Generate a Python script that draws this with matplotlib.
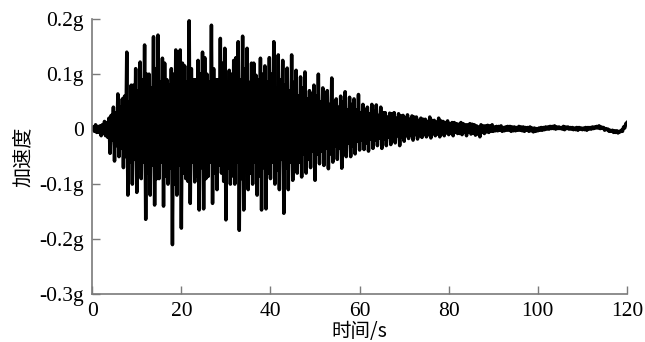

# importing matplotlib module
from matplotlib import pyplot as plt

# Num PY
import numpy as np

# acceleration record (g).
# main peaks: negative peak at t = s, positive peak at t = s + 0.5 (one row = 10 s)
acc_0_10 = [0.0, 0.008, -0.006, 0.006, -0.012, 0.014, -0.012, 0.02, -0.044, 0.04,
            -0.058, 0.064, -0.05, 0.055, -0.07, 0.14, -0.12, 0.08, -0.1, 0.11]
acc_10_20 = [-0.115, 0.122, -0.09, 0.153, -0.164, 0.1, -0.12, 0.168, -0.138, 0.171,
             -0.09, 0.129, -0.14, 0.09, -0.1, 0.11, -0.21, 0.144, -0.12, 0.144]
acc_20_30 = [-0.18, 0.115, -0.09, 0.197, -0.135, 0.09, -0.096, 0.125, -0.147, 0.14,
             -0.145, 0.1, -0.086, 0.189, -0.135, 0.09, -0.11, 0.165, -0.08, 0.147]
acc_30_40 = [-0.165, 0.107, -0.1, 0.125, -0.1, 0.159, -0.184, 0.169, -0.147, 0.147,
             -0.11, 0.12, -0.1, 0.098, -0.12, 0.129, -0.147, 0.115, -0.145, 0.13]
acc_40_50 = [-0.09, 0.159, -0.1, 0.135, -0.11, 0.125, -0.153, 0.111, -0.11, 0.135,
             -0.093, 0.107, -0.08, 0.095, -0.087, 0.104, -0.08, 0.07, -0.07, 0.08]
acc_50_60 = [-0.093, 0.1, -0.063, 0.075, -0.066, 0.07, -0.072, 0.093, -0.06, 0.055,
             -0.055, 0.06, -0.071, 0.068, -0.05, 0.058, -0.05, 0.055, -0.045, 0.063]
acc_60_70 = [-0.038, 0.045, -0.037, 0.04, -0.04, 0.045, -0.035, 0.044, -0.03, 0.04,
             -0.035, 0.03, -0.03, 0.029, -0.028, 0.03, -0.025, 0.028, -0.03, 0.025]
acc_70_80 = [-0.022, 0.026, -0.017, 0.024, -0.02, 0.022, -0.018, 0.02, -0.015, 0.018,
             -0.014, 0.022, -0.016, 0.016, -0.012, 0.02, -0.014, 0.014, -0.012, 0.015]
acc_80_90 = [-0.01, 0.012, -0.012, 0.01, -0.008, 0.012, -0.01, 0.008, -0.012, 0.01,
             -0.009, 0.008, -0.011, 0.004, -0.014, 0.006, -0.008, 0.007, -0.006, 0.008]
acc_90_100 = [-0.004, 0.005, -0.003, 0.006, -0.004, 0.004, -0.002, 0.005, -0.004, 0.004,
              -0.003, 0.005, -0.002, 0.004, -0.004, 0.003, -0.004, 0.002, -0.005, 0.001]
acc_100_110 = [-0.003, 0.003, -0.002, 0.004, 0.0, 0.005, 0.001, 0.006, 0.0, 0.004,
               0.001, 0.005, -0.001, 0.004, 0.0, 0.003, -0.001, 0.003, -0.002, 0.002]
acc_110_120 = [-0.001, 0.003, -0.002, 0.003, 0.0, 0.004, 0.002, 0.006, 0.001, 0.003,
               -0.002, 0.0, -0.004, -0.002, -0.006, -0.003, -0.007, -0.002, -0.004, 0.01]
acc_end = 0.012

# smaller oscillations in between the peaks (the solid black band), one value per second
inner_hi = [0.004, 0.005, 0.008, 0.012, 0.025, 0.03, 0.04, 0.06, 0.05, 0.08,
            0.07, 0.09, 0.1, 0.075, 0.11, 0.085, 0.12, 0.08, 0.1, 0.09,
            0.12, 0.085, 0.11, 0.09, 0.1, 0.13, 0.085, 0.11, 0.09, 0.12,
            0.085, 0.1, 0.13, 0.09, 0.11, 0.085, 0.12, 0.09, 0.1, 0.085,
            0.1, 0.075, 0.09, 0.08, 0.07, 0.085, 0.06, 0.075, 0.055, 0.065,
            0.06, 0.05, 0.065, 0.045, 0.05, 0.04, 0.05, 0.035, 0.045, 0.035,
            0.03, 0.035, 0.028, 0.032, 0.025, 0.03, 0.022, 0.028, 0.02, 0.024,
            0.02, 0.018, 0.022, 0.016, 0.018, 0.014, 0.016, 0.013, 0.015, 0.012,
            0.01, 0.012, 0.009, 0.01, 0.008, 0.009, 0.006, 0.008, 0.006, 0.006,
            0.004, 0.005, 0.003, 0.005, 0.004, 0.003, 0.004, 0.003, 0.004, 0.002,
            0.002, 0.003, 0.004, 0.005, 0.004, 0.003, 0.004, 0.003, 0.002, 0.003,
            0.002, 0.003, 0.004, 0.005, 0.004, 0.001, -0.002, -0.003, -0.004, 0.004]
inner_lo = [-0.004, -0.006, -0.008, -0.015, -0.02, -0.03, -0.035, -0.05, -0.06, -0.055,
            -0.07, -0.06, -0.08, -0.065, -0.09, -0.06, -0.085, -0.07, -0.1, -0.065,
            -0.08, -0.095, -0.06, -0.085, -0.07, -0.09, -0.06, -0.08, -0.065, -0.095,
            -0.07, -0.085, -0.06, -0.09, -0.065, -0.08, -0.06, -0.085, -0.07, -0.08,
            -0.06, -0.075, -0.055, -0.07, -0.06, -0.05, -0.06, -0.045, -0.055, -0.04,
            -0.045, -0.04, -0.035, -0.045, -0.03, -0.035, -0.03, -0.025, -0.03, -0.022,
            -0.02, -0.025, -0.018, -0.02, -0.016, -0.018, -0.014, -0.016, -0.012, -0.014,
            -0.012, -0.011, -0.01, -0.012, -0.009, -0.01, -0.008, -0.009, -0.008, -0.007,
            -0.007, -0.006, -0.008, -0.006, -0.005, -0.007, -0.009, -0.006, -0.005, -0.004,
            -0.003, -0.002, -0.003, -0.002, -0.003, -0.002, -0.003, -0.002, -0.003, -0.004,
            -0.002, -0.001, 0.0, 0.001, 0.001, 0.0, 0.001, 0.0, -0.001, 0.0,
            -0.001, 0.0, 0.001, 0.002, 0.002, -0.001, -0.004, -0.006, -0.005, 0.002]

peaks = (acc_0_10 + acc_10_20 + acc_20_30 + acc_30_40 + acc_40_50 + acc_50_60
         + acc_60_70 + acc_70_80 + acc_80_90 + acc_90_100 + acc_100_110 + acc_110_120)

# put the record together on a 0.25 s grid: peak-, inner+, inner-, peak+
acc = []
for s in range(len(inner_hi)):
    acc += [peaks[2 * s], inner_hi[s], inner_lo[s], peaks[2 * s + 1]]
acc.append(acc_end)
t = np.arange(len(acc)) * 0.25

# tick positions and labels
xticks = [0, 20, 40, 60, 80, 100, 120]
yticks = [0.2, 0.1, 0, -0.1, -0.2, -0.3]
ylabels = ["0.2g", "0.1g", "0", "-0.1g", "-0.2g", "-0.3g"]

fig = plt.figure(figsize=(6.45, 3.42), dpi=100)
ax = fig.add_axes([0.143, 0.140, 0.829, 0.804])

ax.plot(t, acc, color="black", linewidth=2.5)

ax.set_xlim(0, 120)
ax.set_ylim(-0.3, 0.2)

# only left and bottom axis, grey like the original
for side in ["top", "right"]:
    ax.spines[side].set_visible(False)
for side in ["left", "bottom"]:
    ax.spines[side].set_color("#7a7a7a")
    ax.spines[side].set_linewidth(1.2)

ax.set_xticks(xticks)
ax.set_yticks(yticks)
ax.set_yticklabels(ylabels)
ax.tick_params(direction="in", length=6, width=1.0, color="#7a7a7a",
               labelsize=15.5, pad=6)
for lab in ax.get_xticklabels() + ax.get_yticklabels():
    lab.set_family("Liberation Serif")

# Labeling the axes
ax.set_xlabel("时间/s", family=["Noto Sans CJK SC", "DejaVu Sans"], fontsize=14, labelpad=0)
ax.set_ylabel("加速度", family=["Noto Sans CJK SC", "DejaVu Sans"], fontsize=14.5, labelpad=4)

plt.savefig("out.png", dpi=100)
